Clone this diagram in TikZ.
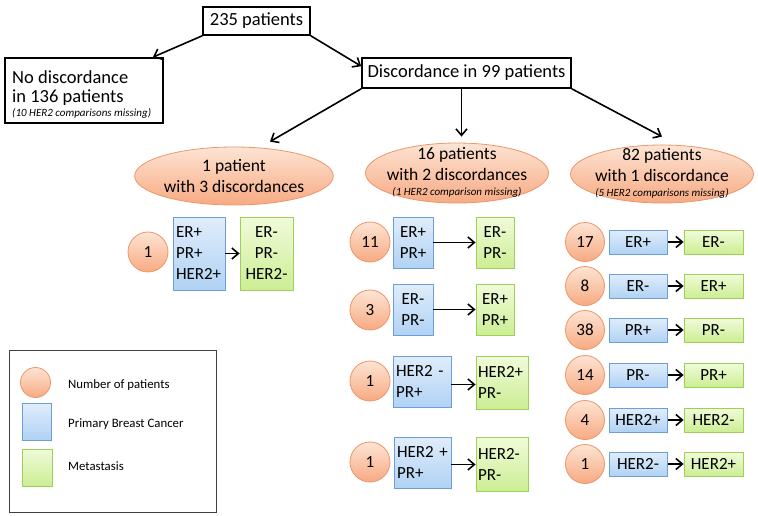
\documentclass[tikz,border=0pt]{standalone}
\usepackage{fontspec}
\setmainfont{Carlito}
\usetikzlibrary{shapes.geometric,arrows.meta,calc}
\definecolor{or1}{RGB}{253,228,212}
\definecolor{or2}{RGB}{247,170,130}
\definecolor{orb}{RGB}{236,150,105}
\definecolor{bl1}{RGB}{224,237,251}
\definecolor{bl2}{RGB}{176,210,244}
\definecolor{blb}{RGB}{110,158,214}
\definecolor{gr1}{RGB}{240,251,218}
\definecolor{gr2}{RGB}{204,238,148}
\definecolor{grb}{RGB}{158,208,88}
\begin{document}
\begin{tikzpicture}[x=1pt,y=-1pt,
  titlebox/.style={draw,line width=1.6pt,inner sep=0pt,font=\fontsize{18.5}{22}\selectfont},
  ell/.style={ellipse,draw=orb,line width=0.8pt,top color=or1,bottom color=or2,inner sep=0pt,align=center,font=\fontsize{17.5}{21.5}\selectfont},
  num/.style={circle,draw=orb,line width=0.8pt,top color=or1,bottom color=or2,inner sep=0pt,minimum size=40pt,font=\fontsize{17}{20}\selectfont},
  pbc/.style={rectangle,draw=blb,line width=0.8pt,top color=bl1,bottom color=bl2,inner sep=0pt,font=\fontsize{17}{21}\selectfont},
  met/.style={rectangle,draw=grb,line width=0.8pt,top color=gr1,bottom color=gr2,inner sep=0pt,font=\fontsize{17}{21}\selectfont},
  small/.style={font=\fontsize{11}{13}\selectfont\itshape,inner sep=0pt},
  arr/.style={line width=1.6pt,-{Straight Barb[length=6.5pt,width=11pt]}},
  legtext/.style={anchor=west,inner sep=0pt,font=\fontsize{12.8}{15}\selectfont}
]
\useasboundingbox (0,0) rectangle (758,515);
% top level
\node[titlebox,minimum width=107pt,minimum height=28pt] (top) at (256.5,21) {235 patients};
\node[titlebox,minimum width=158pt,minimum height=65pt] (nodisc) at (84,90.5) {};
\node[anchor=base west,inner sep=0pt,font=\fontsize{18.5}{22}\selectfont] (nd1) at (12,83) {No discordance};
\node[anchor=base west,inner sep=0pt,font=\fontsize{18.5}{22}\selectfont] (nd2) at (12,102) {in 136 patients};
\node[small,anchor=base west] (nd3) at (12,116) {(10 HER2 comparisons missing)};
\node[titlebox,minimum width=209pt,minimum height=30pt] (disc) at (466.5,73) {Discordance in 99 patients};
\draw[arr] (top.south west) -- ([xshift=-11pt]nodisc.north east);
\draw[arr] (top.south east) -- ([yshift=-9pt]disc.north west);

% ellipses
\node[ell,minimum width=182pt,minimum height=58pt] (E1) at (234,176) {1 patient\\with 3 discordances};
\node[ell,minimum width=183pt,minimum height=60pt] (E2) at (457,173) {};
\node[anchor=center,inner sep=0pt,font=\fontsize{17.5}{21.5}\selectfont,align=center] (E2t) at (457,164) {16 patients\\with 2 discordances};
\node[small,anchor=center] (E2s) at (457,192) {(1 HER2 comparison missing)};
\node[ell,minimum width=183pt,minimum height=58pt] (E3) at (662,174) {};
\node[anchor=center,inner sep=0pt,font=\fontsize{17.5}{21.5}\selectfont,align=center] (E3t) at (662,165) {82 patients\\with 1 discordance};
\node[small,anchor=center] (E3s) at (662,193) {(5 HER2 comparisons missing)};

\draw[arr] (disc.south west) -- ([xshift=36pt,yshift=5pt]E1.north);
\draw[arr] ([xshift=-5pt]disc.south) -- ([xshift=-5pt,yshift=6pt]disc.south |- E2.north);
\draw[arr] (disc.south east) -- ([yshift=8pt]E3.north);

% column 1
\node[num] (c1n) at (148,252) {1};
\node[pbc,minimum width=52pt,minimum height=73pt,align=left,text width=46pt] (c1p) at (199,253.5) {ER+\\PR+\\HER2+};
\node[met,minimum width=53pt,minimum height=73pt,align=center] (c1m) at (266.5,253.5) {ER-\\PR-\\HER2-};
\draw[arr] (c1p.east) -- (c1m.west);

% column 2
\node[num] (a1n) at (370,242) {11};
\node[pbc,minimum width=40pt,minimum height=51pt,align=center] (a1p) at (413,242.5) {ER+\\PR+};
\node[met,minimum width=38pt,minimum height=51pt,align=center] (a1m) at (495,242.5) {ER-\\PR-};
\draw[arr] (a1p.east) -- (a1p.east -| a1m.west);

\node[num] (a2n) at (370,310) {3};
\node[pbc,minimum width=40pt,minimum height=51pt,align=center] (a2p) at (413,309.5) {ER-\\PR-};
\node[met,minimum width=38pt,minimum height=51pt,align=center] (a2m) at (495,309.5) {ER+\\PR+};
\draw[arr] (a2p.east) -- (a2p.east -| a2m.west);

\node[num] (a3n) at (370,381) {1};
\node[pbc,minimum width=58pt,minimum height=51pt,align=left,text width=52pt] (a3p) at (422,381.5) {HER2 -\\PR+};
\node[met,minimum width=52pt,minimum height=53pt,align=left,text width=48pt] (a3m) at (502,382.5) {HER2+\\PR-};
\draw[arr] ([yshift=-3pt]a3p.east) -- ([yshift=-3pt]a3p.east -| a3m.west);

\node[num] (a4n) at (370,462) {1};
\node[pbc,minimum width=57pt,minimum height=51pt,align=left,text width=51pt] (a4p) at (422.5,462.5) {HER2 +\\PR+};
\node[met,minimum width=52pt,minimum height=54pt,align=left,text width=48pt] (a4m) at (502,464) {HER2-\\PR-};
\draw[arr] ([yshift=-2pt]a4p.east) -- ([yshift=-2pt]a4p.east -| a4m.west);

% column 3
\foreach \i/\n/\p/\m/\y in {1/17/ER+/ER-/242, 2/8/ER-/ER+/286, 3/38/PR+/PR-/330, 4/14/PR-/PR+/375, 5/4/HER2+/HER2-/420, 6/1/HER2-/HER2+/464}{
  \node[num,minimum size=39pt] (b\i n) at (585,\y) {\n};
  \node[pbc,minimum width=58pt,minimum height=24pt] (b\i p) at (638,\y) {\p};
  \node[met,minimum width=59pt,minimum height=24pt] (b\i m) at (713.5,\y) {\m};
  \draw[arr,shorten <=1pt] (b\i p.east) -- (b\i m.west);
}

% legend
\node[draw=black!75,line width=1pt,minimum width=207pt,minimum height=162pt,inner sep=0pt] (leg) at (112.5,431) {};
\node[num,minimum size=30pt] (lgn) at (35.5,382.5) {};
\node[pbc,minimum width=29pt,minimum height=37pt] (lgp) at (36.5,421.5) {};
\node[met,minimum width=30pt,minimum height=37pt] (lgm) at (37,467.5) {};
\node[legtext] (lt1) at (68,385) {Number of patients};
\node[legtext] (lt2) at (68,424) {Primary Breast Cancer};
\node[legtext] (lt3) at (68,466) {Metastasis};
\end{tikzpicture}
\end{document}
